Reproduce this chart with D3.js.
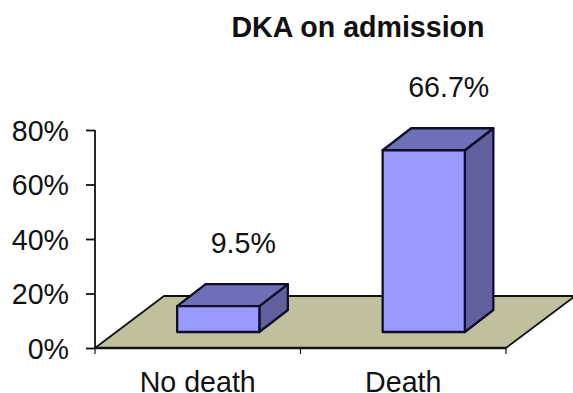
<!DOCTYPE html>
<html>
<head>
<meta charset="utf-8">
<script src="https://cdn.jsdelivr.net/npm/d3@7"></script>
<style>
  html, body { margin: 0; padding: 0; background: #fff; }
  svg { display: block; }
  text { font-family: "Liberation Sans", Arial, sans-serif; fill: #111; }
</style>
</head>
<body>
<svg id="chart" width="573" height="393"></svg>
<script>
// Chart content
const chartTitle = "DKA on admission";
const categories = ["No death", "Death"];
const percentages = [9.5, 66.7];
const valueLabels = ["9.5%", "66.7%"];
const yTicks = [0, 20, 40, 60, 80];

// Plot geometry and the oblique projection used for the 3D effect
const plot = { left: 95, right: 506, top: 130, bottom: 348 };
const floorDepth = { dx: 69, dy: -52 };
const barDepth = { dx: 28.5, dy: -22 };
const barLift = 16;     // bars stand this far behind the floor's front edge
const barShiftX = 20.5; // and this far to the right of their band
const fontSize = 28.6;

const colors = {
  floor: "#c0c09f", front: "#9999ff", top: "#6f6fb9", side: "#60609f",
  edge: "#0e0e2a", axis: "#111"
};

const svg = d3.select("#chart");

const x = d3.scaleBand()
  .domain(categories)
  .range([plot.left, plot.right])
  .paddingInner(0.6)
  .paddingOuter(0.3);

const y = d3.scaleLinear()
  .domain([0, 80])
  .range([plot.bottom, plot.top]);

const polygon = pts => d3.line()(pts) + "Z";

// Floor plane
svg.append("path")
  .attr("d", polygon([
    [plot.left, plot.bottom],
    [plot.right, plot.bottom],
    [plot.right + floorDepth.dx, plot.bottom + floorDepth.dy],
    [plot.left + floorDepth.dx, plot.bottom + floorDepth.dy]
  ]))
  .attr("fill", colors.floor)
  .attr("stroke", colors.axis)
  .attr("stroke-width", 1.8)
  .attr("stroke-linejoin", "round");

// Value axis
const yAxis = svg.append("g")
  .attr("transform", `translate(${plot.left},0)`)
  .call(d3.axisLeft(y).tickValues(yTicks).tickFormat(d => d + "%").tickSize(9).tickPadding(17));
yAxis.selectAll("path, line").attr("stroke", colors.axis).attr("stroke-width", 1.8);
yAxis.select("path").attr("d", `M0,${plot.top}V${plot.bottom}`);
yAxis.selectAll("text").attr("font-size", fontSize).attr("dy", "0.36em").attr("fill", "#111");

// Category axis: labels centred in each band, ticks on the band boundaries
const xAxis = svg.append("g")
  .attr("transform", `translate(0,${plot.bottom})`)
  .call(d3.axisBottom(x).tickSize(0).tickPadding(0));
xAxis.select("path").attr("d", `M${plot.left},0H${plot.right}`)
  .attr("stroke", colors.axis).attr("stroke-width", 2.4);
xAxis.selectAll("text")
  .attr("font-size", fontSize).attr("fill", "#111")
  .attr("dy", 0).attr("y", 44);

const boundaries = [plot.left, (plot.left + plot.right) / 2, plot.right];
xAxis.selectAll("line.boundary")
  .data(boundaries)
  .join("line")
  .attr("class", "boundary")
  .attr("x1", d => d).attr("x2", d => d)
  .attr("y1", 0).attr("y2", 6)
  .attr("stroke", colors.axis)
  .attr("stroke-width", 1.2);

// Bars, each drawn as front, top and side faces
const bars = svg.selectAll("g.bar")
  .data(categories.map((c, i) => ({ category: c, value: percentages[i], label: valueLabels[i] })))
  .join("g")
  .attr("class", "bar");

const corners = d => {
  const x0 = x(d.category) + barShiftX;
  const x1 = x0 + x.bandwidth();
  const yBase = y(0) - barLift;
  const yTop = yBase - (y(0) - y(d.value));
  return { x0, x1, yBase, yTop };
};

const faceStyle = sel => sel
  .attr("stroke", colors.edge)
  .attr("stroke-width", 2.3)
  .attr("stroke-linejoin", "round");

bars.append("path")
  .attr("d", d => {
    const c = corners(d);
    return polygon([
      [c.x1, c.yBase], [c.x1, c.yTop],
      [c.x1 + barDepth.dx, c.yTop + barDepth.dy],
      [c.x1 + barDepth.dx, c.yBase + barDepth.dy]
    ]);
  })
  .attr("fill", colors.side)
  .call(faceStyle);

bars.append("path")
  .attr("d", d => {
    const c = corners(d);
    return polygon([
      [c.x0, c.yTop], [c.x1, c.yTop],
      [c.x1 + barDepth.dx, c.yTop + barDepth.dy],
      [c.x0 + barDepth.dx, c.yTop + barDepth.dy]
    ]);
  })
  .attr("fill", colors.top)
  .call(faceStyle);

bars.append("path")
  .attr("d", d => {
    const c = corners(d);
    return polygon([[c.x0, c.yBase], [c.x1, c.yBase], [c.x1, c.yTop], [c.x0, c.yTop]]);
  })
  .attr("fill", colors.front)
  .call(faceStyle);

// Value labels float above each bar
bars.append("text")
  .attr("x", d => x(d.category) + x.bandwidth() / 2 + barShiftX + 25)
  .attr("y", d => corners(d).yTop - 53)
  .attr("text-anchor", "middle")
  .attr("font-size", fontSize)
  .text(d => d.label);

// Title
svg.append("text")
  .attr("x", 358)
  .attr("y", 37)
  .attr("text-anchor", "middle")
  .attr("font-size", fontSize)
  .attr("font-weight", "bold")
  .text(chartTitle);
</script>
</body>
</html>
